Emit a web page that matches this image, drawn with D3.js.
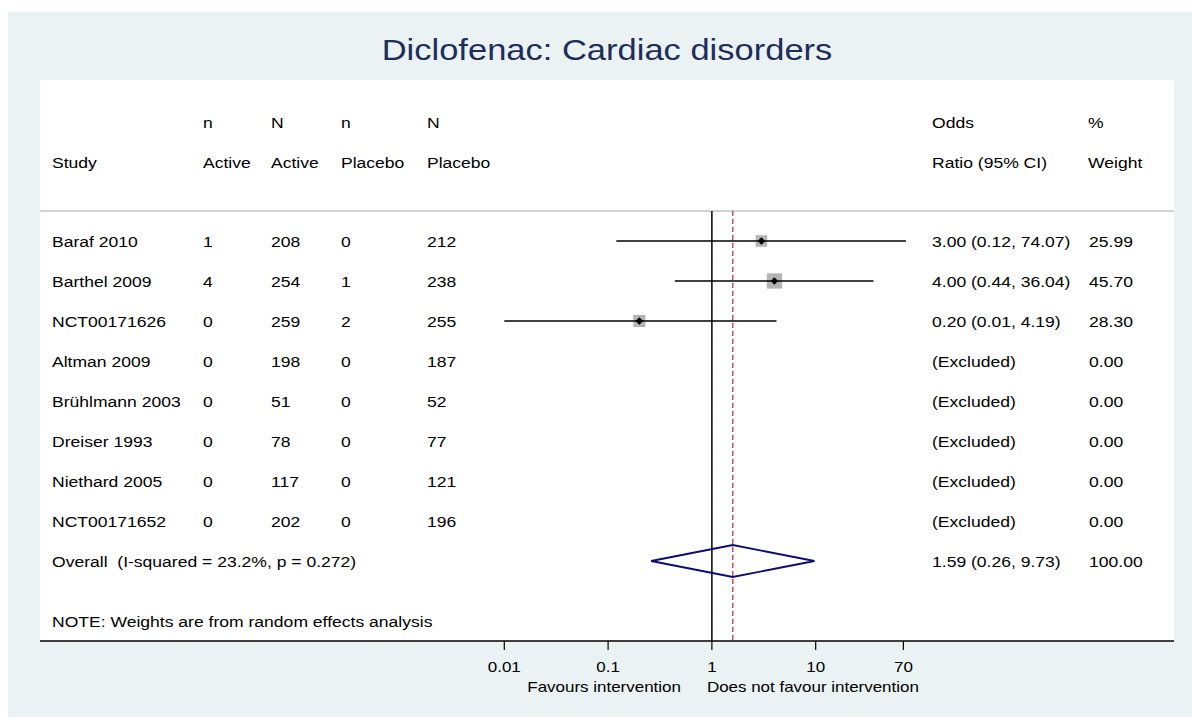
<!DOCTYPE html>
<html>
<head>
<meta charset="utf-8">
<script src="https://cdn.jsdelivr.net/npm/d3@7"></script>
<style>
  body { margin: 0; background: #ffffff; }
  svg text { font-family: "Liberation Sans", Arial, sans-serif; white-space: pre; }
</style>
</head>
<body>
<div id="chart"></div>
<script>
// study table
const studies = ["Baraf 2010", "Barthel 2009", "NCT00171626", "Altman 2009",
  "Brühlmann 2003", "Dreiser 1993", "Niethard 2005", "NCT00171652"];
const nActive = [1, 4, 0, 0, 0, 0, 0, 0];
const NActive = [208, 254, 259, 198, 51, 78, 117, 202];
const nPlacebo = [0, 1, 2, 0, 0, 0, 0, 0];
const NPlacebo = [212, 238, 255, 187, 52, 77, 121, 196];
const oddsRatio = [3.00, 4.00, 0.20, null, null, null, null, null];
const ciLow = [0.12, 0.44, 0.01, null, null, null, null, null];
const ciHigh = [74.07, 36.04, 4.19, null, null, null, null, null];
const weight = [25.99, 45.70, 28.30, 0, 0, 0, 0, 0];
const overallLabel = "Overall  (I-squared = 23.2%, p = 0.272)";
const overallEst = [1.59, 0.26, 9.73]; // OR, low, high
const overallWeight = 100;
const tickValues = [0.01, 0.1, 1, 10, 70];

const width = 1192, height = 718;
const SX = 1.17; // the source text is drawn a bit wide
const panel = { left: 40, right: 1174, top: 80, bottom: 641 };
const headLine = 211;

const svg = d3.select("#chart").append("svg")
  .attr("width", width)
  .attr("height", height);

svg.append("rect")
  .attr("x", 8).attr("y", 12)
  .attr("width", width - 8).attr("height", height - 13)
  .attr("fill", "#eaf2f3");

svg.append("rect")
  .attr("x", panel.left).attr("y", panel.top)
  .attr("width", panel.right - panel.left).attr("height", panel.bottom - panel.top)
  .attr("fill", "#ffffff");

function txt(x, y, s, size, anchor, color) {
  return svg.append("text")
    .attr("transform", `translate(${x},${y}) scale(${SX},1)`)
    .attr("text-anchor", anchor || "start")
    .attr("font-size", size)
    .attr("fill", color || "#000")
    .attr("xml:space", "preserve")
    .text(s);
}

// title
txt((panel.left + panel.right) / 2, 60, "Diclofenac: Cardiac disorders", 29.5, "middle", "#1e2d5a");

// column positions
const cols = { study: 52, nA: 203, NA: 271, nP: 341, NP: 427, or: 932, w: 1089 };
const fs = 15;

// headers
txt(cols.nA, 128, "n", fs); txt(cols.NA, 128, "N", fs);
txt(cols.nP, 128, "n", fs); txt(cols.NP, 128, "N", fs);
txt(cols.or, 128, "Odds", fs); txt(cols.w - 1, 128, "%", fs);
txt(cols.study, 168, "Study", fs);
txt(cols.nA, 168, "Active", fs); txt(cols.NA, 168, "Active", fs);
txt(cols.nP, 168, "Placebo", fs); txt(cols.NP, 168, "Placebo", fs);
txt(cols.or, 168, "Ratio (95% CI)", fs); txt(cols.w - 1, 168, "Weight", fs);

svg.append("line")
  .attr("x1", panel.left).attr("x2", panel.right)
  .attr("y1", headLine).attr("y2", headLine)
  .attr("stroke", "#c4c4c4").attr("stroke-width", 1.5);

// scales
const x = d3.scaleLog().domain([0.01, 70]).range([504.3, 903.4]);
const y = d3.scaleLinear().domain([0, studies.length]).range([241, 561]);
const boxSize = d3.scaleSqrt().domain([0, 100]).range([0, 22.6]);

const fmt = d3.format(".2f");

// table rows
studies.forEach((s, i) => {
  const by = y(i) + 6;
  txt(cols.study, by, s, fs);
  txt(cols.nA, by, nActive[i], fs);
  txt(cols.NA, by, NActive[i], fs);
  txt(cols.nP, by, nPlacebo[i], fs);
  txt(cols.NP, by, NPlacebo[i], fs);
  txt(cols.or, by, oddsRatio[i] == null ? "(Excluded)"
    : `${fmt(oddsRatio[i])} (${fmt(ciLow[i])}, ${fmt(ciHigh[i])})`, fs);
  txt(cols.w, by, fmt(weight[i]), fs);
});

const yo = y(studies.length);
txt(cols.study, yo + 6, overallLabel, fs);
txt(cols.or, yo + 6, `${fmt(overallEst[0])} (${fmt(overallEst[1])}, ${fmt(overallEst[2])})`, fs);
txt(cols.w, yo + 6, fmt(overallWeight), fs);
txt(cols.study, 627, "NOTE: Weights are from random effects analysis", fs);

// reference lines
svg.append("line")
  .attr("x1", x(1)).attr("x2", x(1))
  .attr("y1", headLine).attr("y2", panel.bottom)
  .attr("stroke", "#000").attr("stroke-width", 1.5);

svg.append("line")
  .attr("x1", x(overallEst[0])).attr("x2", x(overallEst[0]))
  .attr("y1", headLine).attr("y2", panel.bottom)
  .attr("stroke", "#a8404e").attr("stroke-width", 1.3)
  .attr("stroke-dasharray", "5,3");

// study estimates
const est = d3.range(studies.length).filter(i => oddsRatio[i] != null);
const g = svg.append("g");

g.selectAll("rect.box")
  .data(est)
  .join("rect")
  .attr("class", "box")
  .attr("x", i => x(oddsRatio[i]) - boxSize(weight[i]) / 2)
  .attr("y", i => y(i) - boxSize(weight[i]) / 2)
  .attr("width", i => boxSize(weight[i]))
  .attr("height", i => boxSize(weight[i]))
  .attr("fill", "#b4b4b4");

g.selectAll("line.ci")
  .data(est)
  .join("line")
  .attr("class", "ci")
  .attr("x1", i => x(ciLow[i])).attr("x2", i => x(ciHigh[i]))
  .attr("y1", i => y(i)).attr("y2", i => y(i))
  .attr("stroke", "#000").attr("stroke-width", 1.5);

g.selectAll("path.pt")
  .data(est)
  .join("path")
  .attr("class", "pt")
  .attr("d", d3.symbol(d3.symbolDiamond2, 36))
  .attr("transform", i => `translate(${x(oddsRatio[i])},${y(i)})`)
  .attr("fill", "#000");

// overall diamond
const dh = 16;
svg.append("path")
  .attr("d", `M${x(overallEst[1])},${yo} L${x(overallEst[0])},${yo - dh} L${x(overallEst[2])},${yo} L${x(overallEst[0])},${yo + dh} Z`)
  .attr("fill", "none")
  .attr("stroke", "#0c0c6e")
  .attr("stroke-width", 1.8);

// x axis
svg.append("line")
  .attr("x1", panel.left).attr("x2", panel.right)
  .attr("y1", panel.bottom).attr("y2", panel.bottom)
  .attr("stroke", "#000").attr("stroke-width", 1.5);

svg.selectAll("line.tick")
  .data(tickValues)
  .join("line")
  .attr("class", "tick")
  .attr("x1", d => x(d)).attr("x2", d => x(d))
  .attr("y1", panel.bottom).attr("y2", panel.bottom + 9)
  .attr("stroke", "#000").attr("stroke-width", 1.2);

tickValues.forEach(d => txt(x(d), 672, d, 14.5, "middle"));

txt(x(1) - 31, 692, "Favours intervention", 14.5, "end");
txt(x(1) - 5, 692, "Does not favour intervention", 14.5, "start");
</script>
</body>
</html>
